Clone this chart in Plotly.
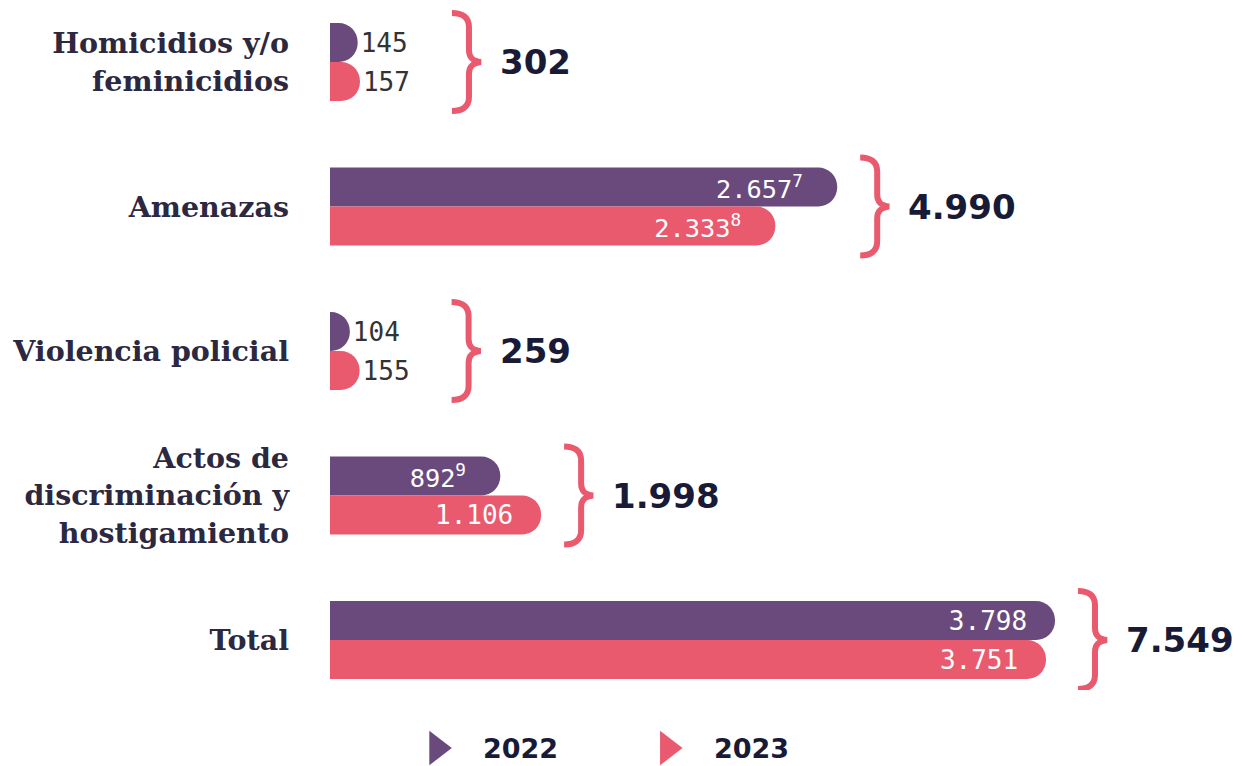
import plotly.graph_objects as go

categories = [
    "Homicidios y/o<br>feminicidios",
    "Amenazas",
    "Violencia policial",
    "Actos de<br>discriminación y<br>hostigamiento",
    "Total",
]
values_2022 = [145, 2657, 104, 892, 3798]
values_2023 = [157, 2333, 155, 1106, 3751]
labels_2022 = ["145", "2.657<sup>7</sup>", "104", "892<sup>9</sup>", "3.798"]
labels_2023 = ["157", "2.333<sup>8</sup>", "155", "1.106", "3.751"]
totals = ["302", "4.990", "259", "1.998", "7.549"]
years = ["2022", "2023"]

PURPLE = "#6a4a7c"
PINK = "#ea5a6e"
NAVY = "#181a36"
TEXT = "#2b2840"
SMALL = 500  # bars shorter than this get their label outside

cats = list(range(len(categories)))


def text_pos(vals):
    return ["outside" if v < SMALL else "inside" for v in vals]


def pad(labels, vals):
    # a little room before the rounded end for inside labels
    return [t if v < SMALL else t + "&nbsp;" for t, v in zip(labels, vals)]


def brace_path(x0):
    # curly brace "}" in pixels, relative to the end of the longest bar
    return (
        f"M {x0},49 C {x0 + 10},49 {x0 + 17},45 {x0 + 17},35 "
        f"L {x0 + 17},12 C {x0 + 17},4 {x0 + 21},1 {x0 + 29},0 "
        f"C {x0 + 21},-1 {x0 + 17},-4 {x0 + 17},-12 "
        f"L {x0 + 17},-35 C {x0 + 17},-45 {x0 + 10},-49 {x0},-49"
    )


fig = go.Figure()
for name, vals, labels, color in [
    (years[0], values_2022, labels_2022, PURPLE),
    (years[1], values_2023, labels_2023, PINK),
]:
    fig.add_trace(
        go.Bar(
            y=cats,
            x=vals,
            orientation="h",
            name=name,
            marker=dict(color=color, cornerradius=19, line=dict(width=0)),
            text=pad(labels, vals),
            textposition=text_pos(vals),
            insidetextanchor="end",
            insidetextfont=dict(family="DejaVu Sans Mono", size=26, color="white"),
            outsidetextfont=dict(family="DejaVu Sans Mono", size=26, color="#333333"),
            cliponaxis=False,
            showlegend=False,
            hoverinfo="skip",
        )
    )

# legend drawn on its own small axis below the bars
legend_x = [0.118, 0.373]
fig.add_trace(
    go.Scatter(
        x=legend_x,
        y=[0.25, 0.25],
        xaxis="x2",
        yaxis="y2",
        mode="markers",
        marker=dict(symbol="triangle-right", size=30, color=[PURPLE, PINK]),
        showlegend=False,
        hoverinfo="skip",
    )
)
for lx, yr in zip(legend_x, years):
    fig.add_annotation(
        x=lx, y=0.25, xref="x2", yref="y2",
        text=f"<b>{yr}</b>", showarrow=False, xanchor="left", yanchor="middle",
        xshift=44,
        font=dict(family="DejaVu Sans", size=27, color=NAVY),
    )

# brackets and totals
for i, tot in enumerate(totals):
    xmax = max(values_2022[i], values_2023[i])
    x0 = 92 if min(values_2022[i], values_2023[i]) < SMALL else 23
    fig.add_shape(
        type="path",
        xref="x", yref="y",
        xsizemode="pixel", ysizemode="pixel",
        xanchor=xmax, yanchor=i,
        path=brace_path(x0),
        line=dict(color=PINK, width=6),
        layer="above",
    )
    fig.add_annotation(
        x=xmax, y=i, xref="x", yref="y",
        text=f"<b>{tot}</b>", showarrow=False, xanchor="left", yanchor="middle",
        xshift=x0 + 46,
        font=dict(family="DejaVu Sans", size=34, color=NAVY),
    )

# the page adds an 8px body margin, so the figure is drawn smaller than the window
fig.update_layout(
    width=1227,
    height=758,
    margin=dict(l=322, r=0, t=2, b=0),
    plot_bgcolor="white",
    paper_bgcolor="white",
    barmode="group",
    bargap=0.46,
    bargroupgap=0,
    showlegend=False,
    xaxis=dict(range=[0, 4741], visible=False),
    yaxis=dict(
        domain=[0.1005, 1],
        range=[4.346, -0.36],
        tickmode="array",
        tickvals=cats,
        ticktext=[f"<b>{c}</b>" for c in categories],
        tickfont=dict(family="DejaVu Serif", size=28.5, color=TEXT),
        showgrid=False,
        zeroline=False,
        showline=False,
        ticks="",
        ticklabelstandoff=40,
        automargin=False,
    ),
    xaxis2=dict(range=[0, 1], visible=False, anchor="y2"),
    yaxis2=dict(domain=[0, 0.0952], range=[0, 1], visible=False, anchor="x2"),
)

fig.write_html("out.html")
